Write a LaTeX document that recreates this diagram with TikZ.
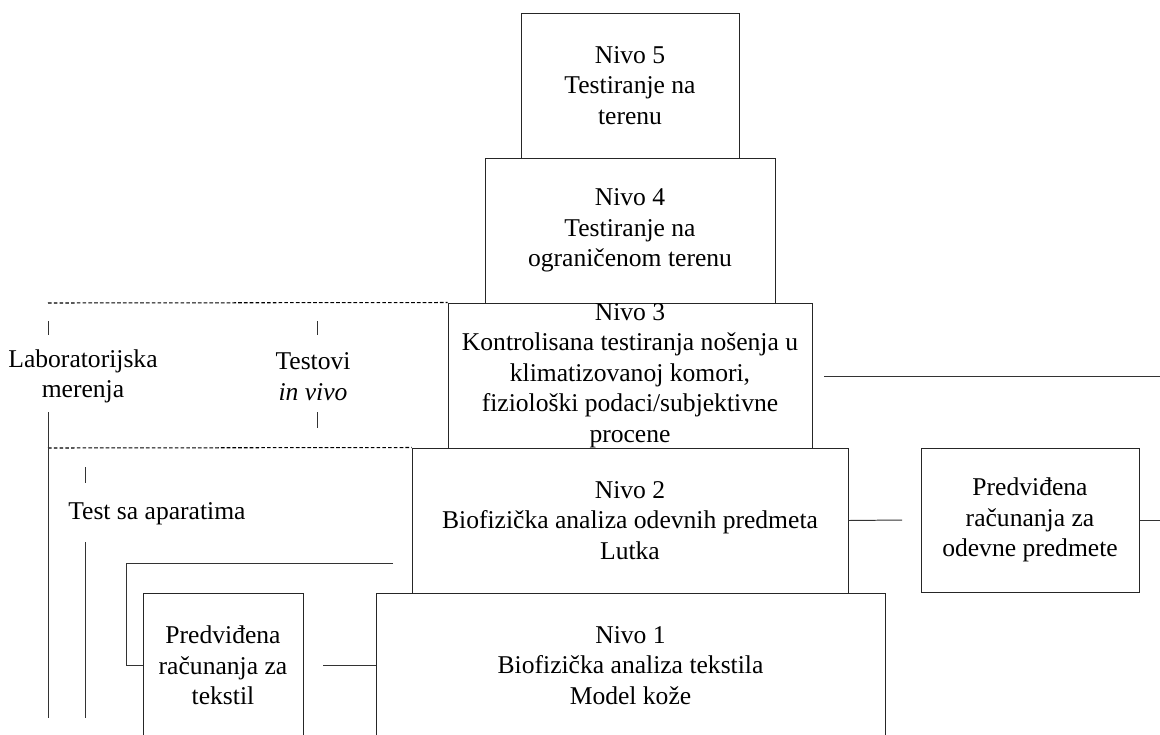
\documentclass[tikz,border=0pt]{standalone}
\usepackage{fontspec}
\setmainfont{Liberation Serif}
\usepackage{tikz}
\usetikzlibrary{positioning}

\begin{document}
\begin{tikzpicture}[
  lvl/.style={draw=black!85,line width=0.7pt,align=center,inner xsep=0pt,inner ysep=0pt,minimum height=3.625cm},
  lab/.style={align=center,inner sep=0pt},
  ln/.style={draw=black!80,line width=0.7pt},
  dsh/.style={draw=black,line width=0.75pt,dash pattern=on 2.6pt off 1.5pt},
  font=\fontsize{18.2}{21.7}\selectfont]
\useasboundingbox (0,0) rectangle (29,-18.35);
% levels
\node[lvl,minimum width=5.45cm] (n5) at (15.75,-2.1375) {Nivo 5\\Testiranje na\\terenu};
\node[lvl,minimum width=7.25cm] (n4) at (15.75,-5.7625) {Nivo 4\\Testiranje na\\ograničenom terenu};
\node[lvl,minimum width=9.1cm] (n3) at (15.75,-9.3875) {Nivo 3\\Kontrolisana testiranja nošenja u\\klimatizovanoj komori,\\fiziološki podaci/subjektivne\\procene};
\node[lvl,minimum width=10.9cm] (n2) at (15.75,-13.0125) {Nivo 2\\Biofizička analiza odevnih predmeta\\Lutka};
\node[lvl,minimum width=12.725cm] (n1) at (15.7625,-16.6375) {Nivo 1\\Biofizička analiza tekstila\\Model kože};
\node[lvl,minimum width=4cm] (pt) at (5.575,-16.6375) {Predviđena\\računanja za\\tekstil};
\node[lvl,minimum width=5.45cm,minimum height=3.6cm] (po) at (25.75,-13) {Predviđena\\računanja za\\odevne predmete};
% side labels
\node[lab] (lm) at (2.075,-9.41) {Laboratorijska\\merenja};
\node[lab] (tv) at (7.825,-9.41) {Testovi\\\textit{in vivo}};
\node[lab,anchor=base west] (ta) at (1.7,-12.975) {Test sa aparatima};
% free ends
\coordinate (d3) at (1.2,-7.575);
\coordinate (d2) at (1.2,-11.2);
\coordinate (br) at (9.825,-14.075);
\coordinate (bl) at (3.15,-14.075);
\coordinate (pe) at (8.075,-16.625);
\coordinate (n2e) at (22.55,-13);
\coordinate (poe) at (29,-13);
\coordinate (r3a) at (20.6,-9.4);
\coordinate (r3b) at (29,-9.4);
% dashed borders
\draw[dsh] (d3) -- (n3.north west);
\draw[dsh] (d2) -- (n2.north west);
% ticks
\draw[ln] (1.2,-8.025) -- (1.2,-8.375);
\draw[ln] (1.2,-10.3) -- (1.2,-17.95);
\draw[ln] (7.925,-8.025) -- (7.925,-8.375);
\draw[ln] (7.925,-10.3) -- (7.925,-10.7);
\draw[ln] (2.125,-11.675) -- (2.125,-12.075);
\draw[ln] (2.125,-13.55) -- (2.125,-17.95);
% connectors
\draw[ln] (br) -- (bl) |- (pt.west);
\draw[ln] (pe) -- (pe -| n1.west);
\draw[ln] (n2.east) -- (n2e);
\draw[ln] (po.east) -- (poe);
\draw[ln] (r3a) -- (r3b);
\end{tikzpicture}
\end{document}
